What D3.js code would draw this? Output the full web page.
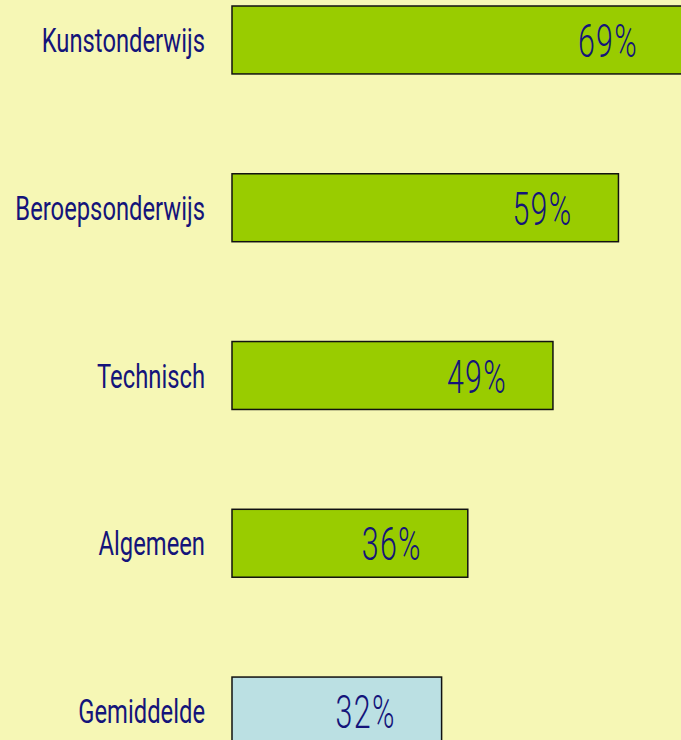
<!DOCTYPE html>
<html>
<head>
<meta charset="utf-8">
<script src="https://cdn.jsdelivr.net/npm/d3@7"></script>
<style>
  html, body { margin: 0; padding: 0; background: #f6f7b5; }
  svg { display: block; }
</style>
</head>
<body>
<div id="chart-container"></div>
<script>
// categorieën en percentages, van boven naar beneden
const categories = ["Kunstonderwijs", "Beroepsonderwijs", "Technisch", "Algemeen", "Gemiddelde"];
const values = [69, 59, 49, 36, 32];
const valueLabels = ["69%", "59%", "49%", "36%", "32%"];

const width = 681, height = 740, margin = {top: 6, right: 0, bottom: 0, left: 232};

const svg = d3.select("#chart-container")
  .append("svg")
  .attr("width", width)
  .attr("height", height);

svg.append("rect").attr("width", width).attr("height", height).attr("fill", "#f6f7b5");

const g = svg.append("g").attr("transform", `translate(${margin.left},${margin.top})`);

const data = categories.map((c, i) => ({cat: c, value: values[i], label: valueLabels[i]}));

const x = d3.scaleLinear().domain([0, 100]).range([0, 655]);

// stap 167.75px, balkhoogte 68px
const y = d3.scaleBand()
  .domain(categories)
  .range([0, 4 * 167.75 + 68])
  .paddingInner(0.595)
  .paddingOuter(0);

const font = "Roboto, 'Liberation Sans', sans-serif";
const navy = "#14147a";

g.selectAll("rect.bar")
  .data(data)
  .join("rect")
    .attr("class", "bar")
    .attr("x", 0)
    .attr("y", d => y(d.cat))
    .attr("width", d => x(d.value))
    .attr("height", y.bandwidth())
    .attr("fill", d => d.cat === "Gemiddelde" ? "#bbe0e3" : "#99cc00")
    .attr("stroke", "#111")
    .attr("stroke-width", 1.5);

// waarde in de balk (smal lettertype nagebootst met scaleX)
g.selectAll("text.val")
  .data(data)
  .join("text")
    .attr("class", "val")
    .attr("transform", d => `translate(${x(d.value) - 76},${y(d.cat) + y.bandwidth() / 2 + 17}) scale(0.66,1)`)
    .attr("text-anchor", "middle")
    .style("font-family", font)
    .style("font-weight", 300)
    .style("letter-spacing", "2px")
    .style("font-size", "46px")
    .style("fill", navy)
    .text(d => d.label);

// categorielabels links
g.selectAll("text.cat")
  .data(data)
  .join("text")
    .attr("class", "cat")
    .attr("transform", d => `translate(-27,${y(d.cat) + y.bandwidth() / 2 + 12}) scale(0.7,1)`)
    .attr("text-anchor", "end")
    .style("font-family", font)
    .style("font-size", "34px")
    .style("fill", navy)
    .text(d => d.cat);
</script>
</body>
</html>
